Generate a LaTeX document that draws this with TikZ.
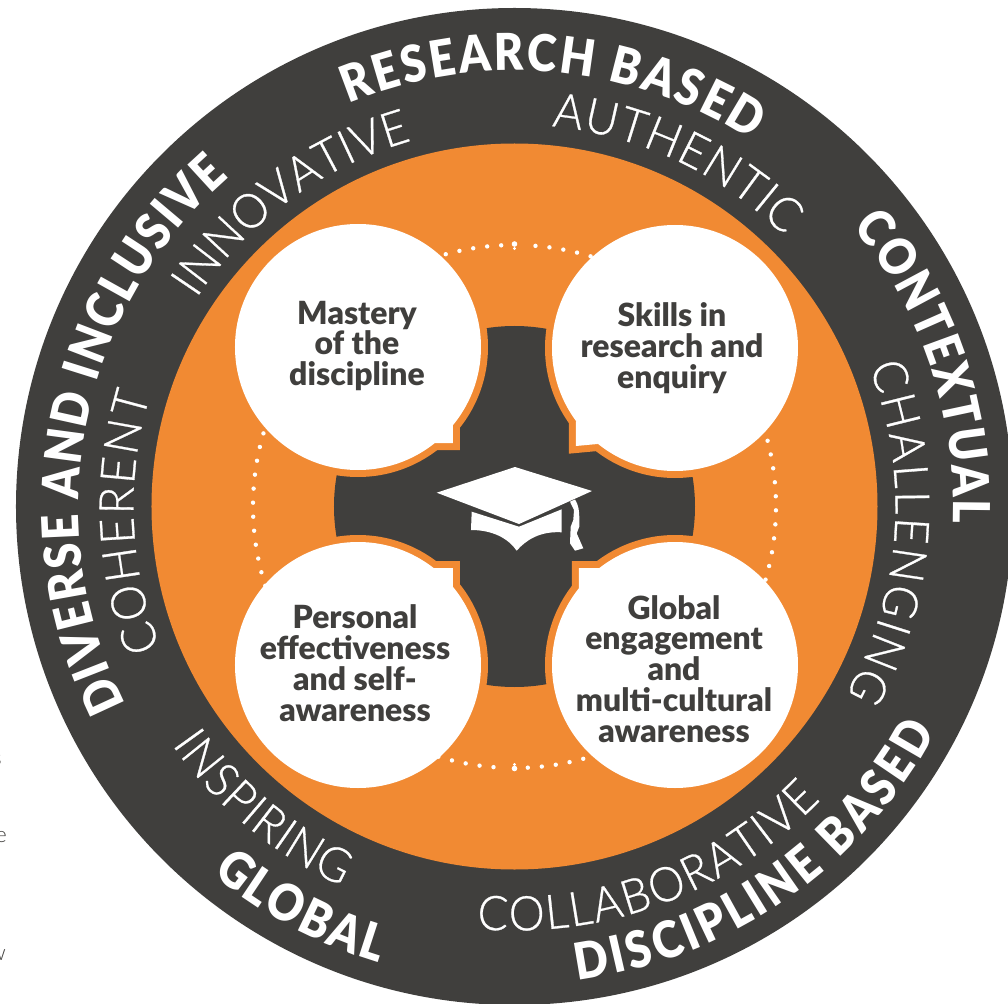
\documentclass[tikz,border=0pt]{standalone}
\usepackage{fontspec}
\usetikzlibrary{decorations.text}
\setmainfont{Lato}
\newfontfamily\blackf{Lato Black}
\newfontfamily\ringf[FakeStretch=0.88]{Lato Black}
\newfontfamily\lightf[FakeBold=0.6,FakeStretch=0.95]{Lato Light}
\newfontfamily\edgef{Lato Light}
\definecolor{ink}{HTML}{403F3D}
\definecolor{amber}{HTML}{F18A33}
\newcommand{\heavy}{\fontsize{51}{51}\selectfont\ringf\color{white}}
\newcommand{\thin}{\fontsize{48}{48}\selectfont\lightf\color{white}}
\newcommand{\ringtext}[5]{% radius, start, end, font, text
  \path[decorate,decoration={text along path,text align={fit to path},text={|#4|#5{\kern1pt}}}]
    (#2:#1) arc[start angle=#2,end angle=#3,radius=#1];}
\tikzset{
  label text/.style={font=\blackf\fontsize{32}{31}\selectfont,text=ink,align=center,inner sep=0pt},
  halo/.style={draw=amber,line width=14bp,line join=miter,miter limit=10},
  face/.style={fill=white,draw=none},
  dotmark/.style={fill=white,draw=none},
  px/.style={shift={(-514.5,506.5)},y=-1bp},
  edge text/.style={font=\fontsize{22}{22}\selectfont\edgef,text=ink,inner sep=0pt}
}
\begin{document}
\begin{tikzpicture}[x=1bp,y=1bp]
\clip (-514.5,506.5) rectangle (493.5,-497.5);
\fill[white] (-514.5,506.5) rectangle (493.5,-497.5);
% rings
\fill[ink] (0,0) circle[radius=498.5];
\fill[amber] (0,0) circle[radius=363];
\fill[ink] (0,0) circle[radius=180.5];
% orange halos of the four faces
\begin{scope}[px]
  \foreach \cx/\cy/\pa/\pb/\pc in {
    358/347/{453,423}/{453,443}/{435,443},
    675/348/{576,421.5}/{576,446}/{597.5,444},
    358/665/{453,588}/{453,568}/{434,568},
    675/665/{579,588}/{579,568}/{600,568}}{
    \path[halo] (\cx,\cy) circle[radius=123];
    \path[halo] (\cx,\cy) -- (\pa) -- (\pb) -- (\pc) -- cycle;
  }
\end{scope}
% dotted circle
\foreach \i in {0,...,56}{
  \fill[dotmark] ({90-4.6-\i*3.08}:261.5) circle[radius=2.2];
  \fill[dotmark] ({-90-4.6-\i*3.08}:261.5) circle[radius=2.2];
}
\fill[dotmark] (90:262.5) circle[radius=2.8];
\fill[dotmark] (90:258) circle[radius=1.7];
\fill[dotmark] (-90:262) circle[radius=2.8];
\fill[dotmark] (-90:258) circle[radius=1.7];
% white faces
\begin{scope}[px]
  \foreach \cx/\cy/\pa/\pb/\pc in {
    358/347/{453,423}/{453,443}/{435,443},
    675/348/{576,421.5}/{576,446}/{597.5,444},
    358/665/{453,588}/{453,568}/{434,568},
    675/665/{579,588}/{579,568}/{600,568}}{
    \path[face] (\cx,\cy) circle[radius=123];
    \path[face] (\cx,\cy) -- (\pa) -- (\pb) -- (\pc) -- cycle;
  }
  % graduation cap
  \fill[white] (515,467) -- (592,491) -- (519,524) -- (436.7,492.7) -- cycle;
  \fill[white] (471.7,511.7) -- (519,526.7) -- (561.7,509.3) -- (561.7,532.3)
    .. controls (540,531) and (526,540) .. (516.7,550.7)
    .. controls (508,538) and (492,530) .. (471,530) -- cycle;
  \fill[white] (570,501.7) -- (575,499.5) .. controls (579,506) and (579,511) .. (579.3,516.7)
    -- (579.3,526.7) -- (576.7,533.3) -- (583.3,548.3) -- (575,550.7) -- (570,543.3)
    -- (570.7,526.7) -- (573.3,520) -- (574,510) -- cycle;
  % labels of the faces
  \node[label text] (mastery) at (357,346) {Mastery\\of the\\discipline};
  \node[label text] (skills) at (672,348) {Skills in\\research and\\enquiry};
  \node[label text] (personal) at (355,663) {Personal\\effectiveness\\and self-\\awareness};
  \node[label text] (globaleng) at (674,669) {Global\\engagement\\and\\multi-cultural\\awareness};
  % cut-off words at the left edge
  \node[edge text,anchor=east] (cuts) at (2,760) {s};
  \node[edge text,anchor=east] (cute) at (7,837) {e};
  \node[edge text,anchor=east] (cutw) at (6,955) {w};
\end{scope}
% ring words
\ringtext{436}{112.4}{56.6}{\heavy}{RESEARCH BASED}
\ringtext{436}{207}{130.5}{\heavy}{DIVERSE AND INCLUSIVE}
\ringtext{439}{39.6}{-2.6}{\heavy}{CONTEXTUAL}
\ringtext{478}{-82.4}{-27.6}{\heavy}{DISCIPLINE BASED}
\ringtext{476}{230.6}{253.8}{\heavy}{GLOBAL}
\ringtext{380}{146.8}{105.5}{\thin}{INNOVATIVE}
\ringtext{382}{84.4}{44.8}{\thin}{AUTHENTIC}
\ringtext{381}{21.5}{-30}{\thin}{CHALLENGING}
\ringtext{381}{201.7}{162.5}{\thin}{COHERENT}
\ringtext{417}{214.8}{245.8}{\thin}{INSPIRING}
\ringtext{424}{264.9}{316.6}{\thin}{COLLABORATIVE}
\end{tikzpicture}
\end{document}
